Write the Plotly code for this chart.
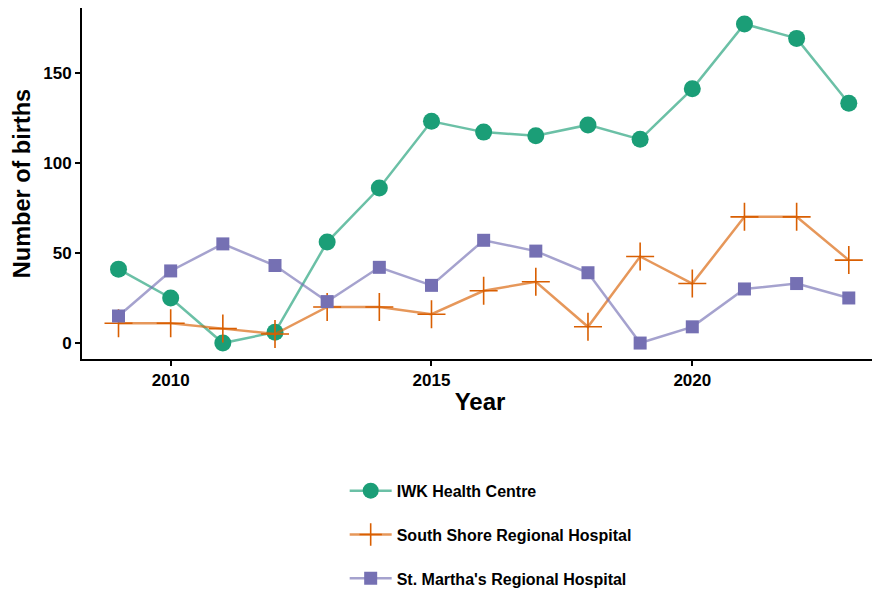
import plotly.graph_objects as go

years = list(range(2009, 2024))
iwk = [41, 25, 0, 6, 56, 86, 123, 117, 115, 121, 113, 141, 177, 169, 133]
south_shore = [11, 11, 8, 5, 20, 20, 16, 29, 34, 9, 48, 33, 70, 70, 46]
st_marthas = [15, 40, 55, 43, 23, 42, 32, 57, 51, 39, 0, 9, 30, 33, 25]

FONT = "Liberation Sans, Arial, sans-serif"

series = [
    ("IWK Health Centre", iwk, "#1B9E77", "rgba(27,158,119,0.65)",
     dict(symbol="circle", size=17)),
    ("South Shore Regional Hospital", south_shore, "#D95F02", "rgba(217,95,2,0.65)",
     dict(symbol="cross-thin", size=20, line=dict(width=1.6, color="#D95F02"))),
    ("St. Martha's Regional Hospital", st_marthas, "#7570B3", "rgba(117,112,179,0.65)",
     dict(symbol="square", size=13)),
]

fig = go.Figure()
for i, (name, vals, col, line_col, marker) in enumerate(series):
    fig.add_trace(go.Scatter(
        x=years, y=vals, name=name, mode="lines+markers",
        line=dict(color=line_col, width=2.5),
        marker=dict(color=col, **marker),
        legendgroup=str(i),
    ))

axis_common = dict(
    showgrid=False, zeroline=False, showline=True, linecolor="black", linewidth=2,
    ticks="outside", ticklen=5, tickwidth=1.5, tickcolor="black", automargin=False,
    tickfont=dict(family=FONT, size=17, color="black", weight="bold"),
)

# page body has an 8px margin, so the figure is a bit smaller and shifted
fig.update_layout(
    width=872, height=582,
    paper_bgcolor="white", plot_bgcolor="white",
    margin=dict(l=74, r=2, t=0, b=231, autoexpand=False),
    font=dict(family=FONT, color="black"),
    xaxis=dict(range=[2008.3, 2023.56], tickvals=[2010, 2015, 2020],
               title=dict(text="Year", font=dict(family=FONT, size=24, weight="bold"),
                          standoff=4),
               **axis_common),
    yaxis=dict(range=[-8.85, 185.85], tickvals=[0, 50, 100, 150],
               title=dict(text="Number of births", font=dict(family=FONT, size=23.5, weight="bold"),
                          standoff=6),
               **axis_common),
    legend=dict(x=0.33, xanchor="left", y=-0.327, yanchor="top",
                tracegroupgap=20, itemwidth=42, bgcolor="rgba(0,0,0,0)",
                font=dict(family=FONT, size=16, weight="bold", color="black")),
    showlegend=True,
)

fig.write_html("out.html")
